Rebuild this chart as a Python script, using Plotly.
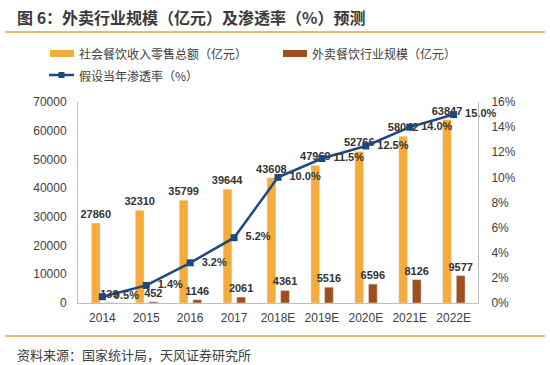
import plotly.graph_objects as go

categories = ["2014", "2015", "2016", "2017", "2018E", "2019E", "2020E", "2021E", "2022E"]
restaurant_total = [27860, 32310, 35799, 39644, 43608, 47969, 52766, 58042, 63847]
takeaway_size = [139, 452, 1146, 2061, 4361, 5516, 6596, 8126, 9577]
penetration = [0.005, 0.014, 0.032, 0.052, 0.100, 0.115, 0.125, 0.140, 0.150]
pen_labels = ["0.5%", "1.4%", "3.2%", "5.2%", "10.0%", "11.5%", "12.5%", "14.0%", "15.0%"]

W, H = 550, 365
L, R, T, B = 78, 72, 102, 62
PW, PH = W - L - R, H - T - B

def px(x):
    return (x - L) / PW

def py(y):
    return (H - B - y) / PH

ORANGE = "#F5AC3C"
BROWN = "#9E4F1C"
NAVY = "#1F497D"
TXT = "#404040"
RULE = "#E3A04A"
FONT = "Liberation Sans, Arial, sans-serif"
CJK = "Noto Sans CJK SC, sans-serif"

fig = go.Figure()
fig.add_trace(go.Bar(
    x=categories, y=restaurant_total, name="社会餐饮收入零售总额（亿元）",
    marker_color=ORANGE, offset=-0.25, width=0.2,
    text=[str(v) for v in restaurant_total], textposition="outside", constraintext="none",
    textfont=dict(size=11, color="#333333", family=FONT, weight="bold"), cliponaxis=False,
    showlegend=False,
))
fig.add_trace(go.Bar(
    x=categories, y=takeaway_size, name="外卖餐饮行业规模（亿元）",
    marker_color=BROWN, offset=0.06, width=0.2,
    text=[str(v) for v in takeaway_size], textposition="outside", constraintext="none",
    textfont=dict(size=11, color="#333333", family=FONT, weight="bold"), cliponaxis=False,
    showlegend=False,
))
fig.add_trace(go.Scatter(
    x=categories, y=penetration, yaxis="y2", name="假设当年渗透率（%）",
    mode="lines+markers+text", line=dict(color=NAVY, width=2.5),
    marker=dict(symbol="square", size=7, color=NAVY),
    text=["  " + t for t in pen_labels], textposition="middle right",
    textfont=dict(size=11, color="#333333", family=FONT, weight="bold"), cliponaxis=False,
    showlegend=False,
))

fig.update_layout(
    width=W, height=H, margin=dict(l=L, r=R, t=T, b=B, autoexpand=False),
    paper_bgcolor="white", plot_bgcolor="white",
    barmode="overlay", hovermode=False,
    font=dict(family=FONT, color=TXT, size=12),
    xaxis=dict(showgrid=False, showline=True, linecolor="#BFBFBF", linewidth=1,
               ticks="", tickfont=dict(size=12, color=TXT), ticklabelstandoff=4),
    yaxis=dict(range=[0, 70000], dtick=10000, tickformat="d", showgrid=False, showline=True,
               linecolor="#BFBFBF", linewidth=1, ticks="", zeroline=False,
               tickfont=dict(size=12, color=TXT), ticklabelstandoff=8),
    yaxis2=dict(range=[0, 0.16], dtick=0.02, tickformat=".0%", overlaying="y",
                side="right", showgrid=False, showline=True, linecolor="#BFBFBF",
                linewidth=1, ticks="", zeroline=False,
                tickfont=dict(size=12, color=TXT), ticklabelstandoff=10),
)

shapes = [
    dict(type="line", xref="paper", yref="paper", x0=px(5), x1=px(545), y0=py(32), y1=py(32),
         line=dict(color=RULE, width=1.5)),
    dict(type="line", xref="paper", yref="paper", x0=px(5), x1=px(545), y0=py(336), y1=py(336),
         line=dict(color=RULE, width=1.5)),
    dict(type="rect", xref="paper", yref="paper", x0=px(50), x1=px(74), y0=py(57), y1=py(50),
         fillcolor=ORANGE, line=dict(width=0)),
    dict(type="rect", xref="paper", yref="paper", x0=px(283), x1=px(307), y0=py(57), y1=py(50),
         fillcolor=BROWN, line=dict(width=0)),
    dict(type="line", xref="paper", yref="paper", x0=px(49), x1=px(74), y0=py(75), y1=py(75),
         line=dict(color=NAVY, width=2.5)),
    dict(type="rect", xref="paper", yref="paper", x0=px(58.5), x1=px(64.5), y0=py(78), y1=py(72),
         fillcolor=NAVY, line=dict(width=0)),
]

annotations = [
    dict(text="<b>图 6：外卖行业规模（亿元）及渗透率（%）预测</b>", xref="paper", yref="paper",
         x=px(15), y=py(17), xanchor="left", yanchor="middle", showarrow=False,
         font=dict(family=CJK, size=16, color="#3A3A3A")),
    dict(text="社会餐饮收入零售总额（亿元）", xref="paper", yref="paper",
         x=px(77), y=py(54), xanchor="left", yanchor="middle", showarrow=False,
         font=dict(family=CJK, size=12, color=TXT)),
    dict(text="外卖餐饮行业规模（亿元）", xref="paper", yref="paper",
         x=px(310), y=py(54), xanchor="left", yanchor="middle", showarrow=False,
         font=dict(family=CJK, size=12, color=TXT)),
    dict(text="假设当年渗透率（%）", xref="paper", yref="paper",
         x=px(77), y=py(75), xanchor="left", yanchor="middle", showarrow=False,
         font=dict(family=CJK, size=12, color=TXT)),
    dict(text="资料来源：国家统计局，天风证券研究所", xref="paper", yref="paper",
         x=px(15), y=py(354), xanchor="left", yanchor="middle", showarrow=False,
         font=dict(family=CJK, size=13, color=TXT)),
]
fig.update_layout(shapes=shapes, annotations=annotations)

fig.write_html("out.html", config={"displayModeBar": False, "staticPlot": True},
               post_script="document.body.style.margin='0';document.body.style.padding='0';")
